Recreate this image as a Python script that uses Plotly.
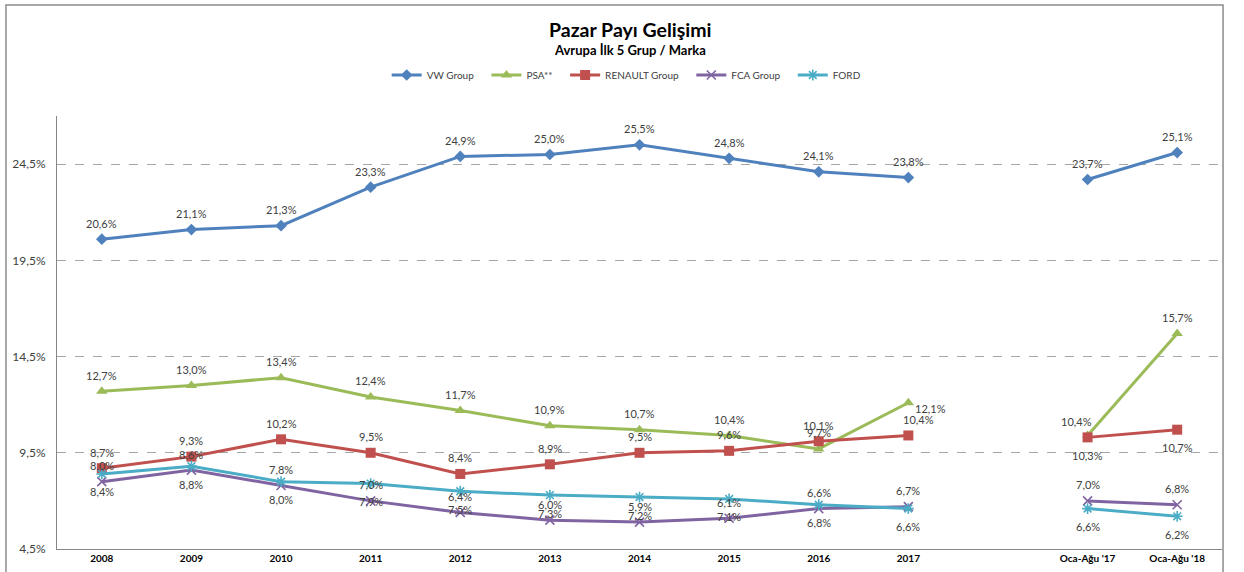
import plotly.graph_objects as go

categories = ['2008', '2009', '2010', '2011', '2012', '2013', '2014', '2015', '2016', '2017',
              ' ', "Oca-Ağu '17", "Oca-Ağu '18"]

vw = [20.6, 21.1, 21.3, 23.3, 24.9, 25.0, 25.5, 24.8, 24.1, 23.8, None, 23.7, 25.1]
psa = [12.7, 13.0, 13.4, 12.4, 11.7, 10.9, 10.7, 10.4, 9.7, 12.1, None, 10.4, 15.7]
renault = [8.7, 9.3, 10.2, 9.5, 8.4, 8.9, 9.5, 9.6, 10.1, 10.4, None, 10.3, 10.7]
fca = [8.0, 8.6, 7.8, 7.0, 6.4, 6.0, 5.9, 6.1, 6.6, 6.7, None, 7.0, 6.8]
ford = [8.4, 8.8, 8.0, 7.9, 7.5, 7.3, 7.2, 7.1, 6.8, 6.6, None, 6.6, 6.2]

y_ticks = [4.5, 9.5, 14.5, 19.5, 24.5]
y_tick_labels = ['4,5%', '9,5%', '14,5%', '19,5%', '24,5%']

label_col = '#404040'
font_family = 'Lato'

# label offsets (px) relative to the marker
ABOVE = (0, 16)
BELOW = (0, -18)


def pct(v):
    return f'{v:.1f}'.replace('.', ',') + '%'


series = [
    ('VW Group', vw, '#4F81BD', dict(symbol='diamond', size=9), ABOVE, {}),
    ('PSA**', psa, '#9BBB59', dict(symbol='triangle-up', size=10), ABOVE,
     {9: (22, -6), 11: (-11, 14)}),
    ('RENAULT Group', renault, '#C0504D', dict(symbol='square', size=10), ABOVE,
     {9: (10, 16), 11: BELOW, 12: BELOW}),
    ('FCA Group', fca, '#8064A2', dict(symbol='x-thin', size=9, line=dict(width=1.6, color='#8064A2')),
     ABOVE, {}),
    ('FORD', ford, '#4BACC6', dict(symbol='asterisk', size=9, line=dict(width=1.6, color='#4BACC6')),
     BELOW, {}),
]

fig = go.Figure()
for name, vals, col, mk, default_off, overrides in series:
    fig.add_trace(go.Scatter(
        x=categories, y=vals, name=name + '&nbsp;' * 3, mode='lines+markers',
        line=dict(color=col, width=3),
        marker=dict(color=col, **mk),
        connectgaps=False, cliponaxis=False,
    ))
    for i, v in enumerate(vals):
        if v is None:
            continue
        dx, dy = overrides.get(i, default_off)
        # category axis: position by category index
        fig.add_annotation(x=i, y=v, text=pct(v), showarrow=False, xshift=dx, yshift=dy,
                           font=dict(size=11, color=label_col, family=font_family))

fig.add_annotation(text='<b>Pazar Payı Gelişimi</b>', xref='paper', yref='paper',
                   x=0.492, y=1.199, yanchor='middle', showarrow=False,
                   font=dict(size=19.5, color='#000000', family=font_family))
fig.add_annotation(text='<b>Avrupa İlk 5 Grup / Marka</b>', xref='paper', yref='paper',
                   x=0.492, y=1.152, yanchor='middle', showarrow=False,
                   font=dict(size=13, color='#000000', family=font_family))

# outer chart frame
fig.add_shape(type='rect', xref='paper', yref='paper', x0=-0.0438, x1=1.0009, y0=-0.1, y1=1.2564,
              line=dict(color='#8c8c8c', width=1.5), layer='below')

fig.update_layout(
    width=1244, height=572,
    paper_bgcolor='white', plot_bgcolor='white',
    font=dict(family=font_family, color=label_col),
    margin=dict(l=57, r=22, t=116, b=23, autoexpand=False),
    showlegend=True,
    legend=dict(orientation='h', x=0.492, xanchor='center', y=1.0947, yanchor='middle',
                font=dict(size=10, color=label_col), itemwidth=30, bgcolor='rgba(0,0,0,0)'),
    xaxis=dict(type='category', range=[-0.5, len(categories) - 0.5], showgrid=False,
               showline=True, linecolor='#868686', linewidth=1,
               ticks='', tickfont=dict(size=10, color='#000000', family=font_family),
               tickprefix='<b>', ticksuffix='</b>', automargin=False),
    yaxis=dict(range=[4.5, 27], tickvals=y_ticks, ticktext=y_tick_labels, showgrid=True,
               gridcolor='#a6a6a6', griddash='dash', gridwidth=1, zeroline=False,
               showline=True, linecolor='#868686', linewidth=1, ticks='', automargin=False,
               ticklabelstandoff=8, tickfont=dict(size=12, color=label_col, family=font_family)),
)

fig.write_html('out.html', config={'displayModeBar': False},
               post_script="document.body.style.margin='0';")
